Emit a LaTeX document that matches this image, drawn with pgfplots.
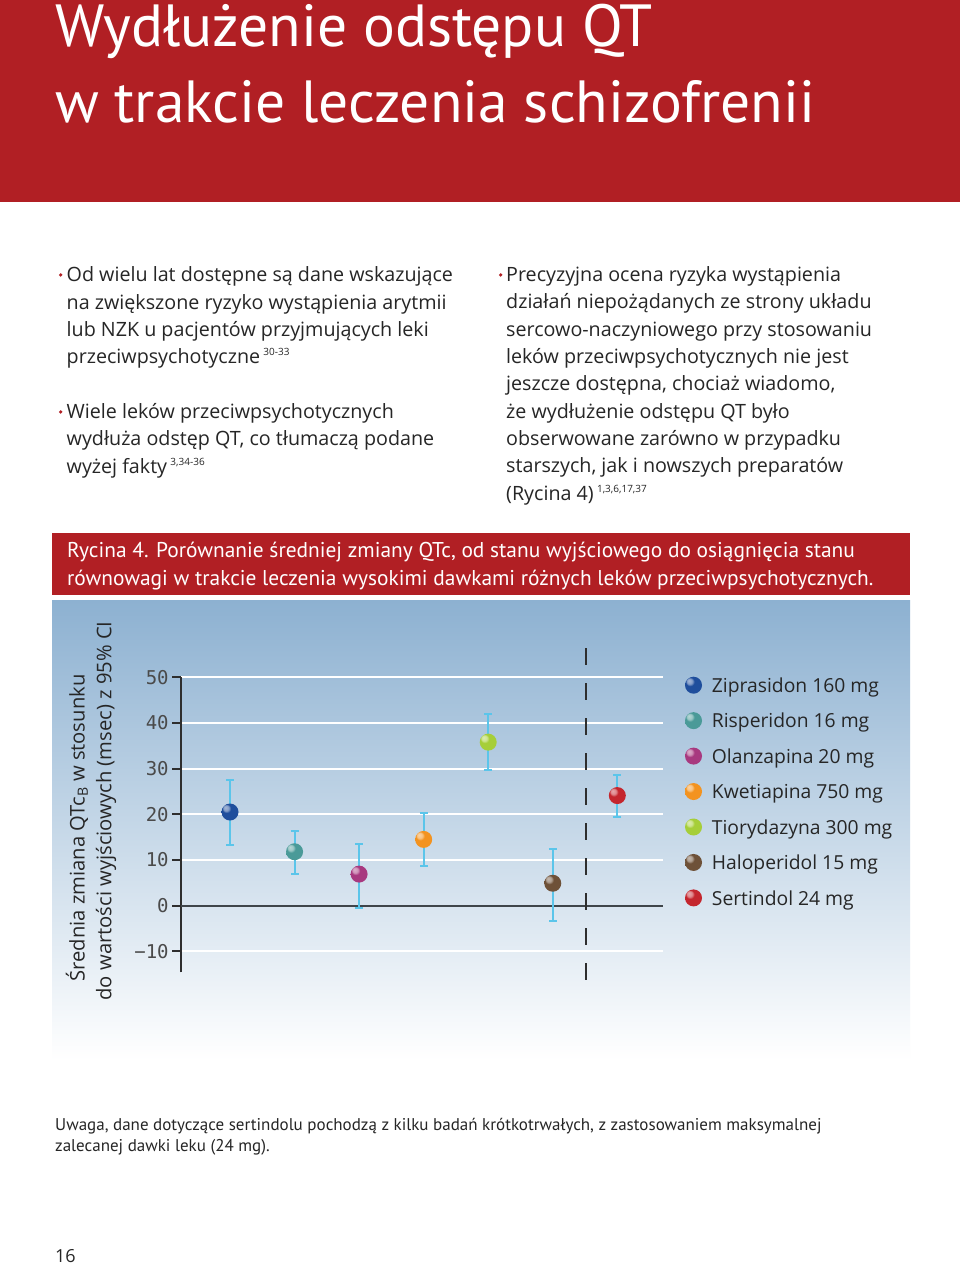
\documentclass[border=0pt]{standalone}
\usepackage{fontspec}
\setmainfont{Open Sans}
\newfontfamily\ptsans{PT Sans}
\newfontfamily\monofont{DejaVu Sans Mono}
\usepackage{pgfplots}
\pgfplotsset{compat=1.18}

\definecolor{pagered}{HTML}{B11F24}
\definecolor{bodytext}{HTML}{262626}
\definecolor{bgtop}{HTML}{8DB1D1}
\definecolor{axisgray}{HTML}{2E2E2E}
\definecolor{zerogray}{HTML}{3F454A}
\definecolor{ticktext}{HTML}{4A4A4A}
\definecolor{errblue}{HTML}{5BC5EA}
\definecolor{zip}{HTML}{1F4E9C}
\definecolor{risp}{HTML}{4A9A98}
\definecolor{olan}{HTML}{A8397F}
\definecolor{kwet}{HTML}{F39320}
\definecolor{tior}{HTML}{A6CE39}
\definecolor{halo}{HTML}{6E5138}
\definecolor{sert}{HTML}{C4262E}

% kulki z odblaskiem
\newcommand\declareball[1]{%
  \pgfdeclareradialshading{ball#1}{\pgfqpoint{-14bp}{14bp}}{%
    color(0bp)=(#1!40!white); color(8bp)=(#1!55!white); color(13bp)=(#1);
    color(42bp)=(#1); color(50bp)=(#1!80!black)}%
  \pgfdeclareplotmark{ball#1}{%
    \pgfpathcircle{\pgfpointorigin}{\pgfplotmarksize}%
    \pgfshadepath{ball#1}{0}\pgfusepath{discard}}}
\declareball{zip}\declareball{risp}\declareball{olan}\declareball{kwet}
\declareball{tior}\declareball{halo}\declareball{sert}

\newcommand\bodyfont{\fontsize{19.7}{27.4}\selectfont}
\newcommand\supfont{\fontsize{10}{10}\selectfont}

\begin{document}
\begin{tikzpicture}
\path[use as bounding box] (0,0) rectangle (960pt,1267pt);
\fill[white] (0,0) rectangle (960pt,1267pt);
\begin{scope}[x=1pt,y=-1pt,shift={(0,1267pt)}]
  % naglowek
  \fill[pagered] (0,0) rectangle (960,202);
  \begin{scope}[every node/.style={anchor=base west, inner sep=0pt, text=white,
      font=\ptsans\fontsize{59.5}{62}\selectfont}]
    \node at (55,47) {Wydłużenie odstępu QT};
    \node at (55,123) {w trakcie leczenia schizofrenii};
  \end{scope}
  % tekst
  \begin{scope}[every node/.style={anchor=base west, inner sep=0pt, text=bodytext,
      font=\bodyfont}]
    \fill[pagered] (60.7,275) circle (1.8);
    \node at (66.5,281.7) {Od wielu lat dostępne są dane wskazujące};
    \node at (66.5,309.1) {na zwiększone ryzyko wystąpienia arytmii};
    \node at (66.5,336.5) {lub NZK u pacjentów przyjmujących leki};
    \node at (66.5,363.9) {przeciwpsychotyczne\,\raisebox{8pt}{\supfont 30-33}};
    \fill[pagered] (60.7,412) circle (1.8);
    \node at (66.5,418.3) {Wiele leków przeciwpsychotycznych};
    \node at (66.5,445.7) {wydłuża odstęp QT, co tłumaczą podane};
    \node at (66.5,473.1) {wyżej fakty\,\raisebox{8pt}{\supfont 3,34-36}};
    \fill[pagered] (500.7,275) circle (1.8);
    \node at (506,281.7) {Precyzyjna ocena ryzyka wystąpienia};
    \node at (506,309.0) {działań niepożądanych ze strony układu};
    \node at (506,336.3) {sercowo-naczyniowego przy stosowaniu};
    \node at (506,363.6) {leków przeciwpsychotycznych nie jest};
    \node at (506,390.9) {jeszcze dostępna, chociaż wiadomo,};
    \node at (506,418.2) {że wydłużenie odstępu QT było};
    \node at (506,445.5) {obserwowane zarówno w przypadku};
    \node at (506,472.8) {starszych, jak i nowszych preparatów};
    \node at (506,500.1) {(Rycina 4)\,\raisebox{8pt}{\supfont 1,3,6,17,37}};
  \end{scope}
  % podpis ryciny
  \fill[pagered] (52,533) rectangle (910,595);
  \begin{scope}[every node/.style={anchor=base west, inner sep=0pt, text=white,
      font=\ptsans\fontsize{21.4}{28}\selectfont}]
    \node at (67,558) {Rycina 4. Porównanie średniej zmiany QTc, od stanu wyjściowego do osiągnięcia stanu};
    \node at (67,586) {równowagi w trakcie leczenia wysokimi dawkami różnych leków przeciwpsychotycznych.};
  \end{scope}
  % tlo wykresu
  \shade[top color=bgtop, bottom color=white] (52,601) rectangle (910,1060);
  \begin{scope}[every node/.style={rotate=90, inner sep=0pt, text=bodytext,
      font=\fontsize{20.2}{24}\selectfont}]
    \node at (77,828) {Średnia zmiana QTc\textsubscript{B} w stosunku};
    \node at (106,811) {do wartości wyjściowych (msec) z 95\% CI};
  \end{scope}
  % uwaga i numer strony
  \begin{scope}[every node/.style={anchor=base west, inner sep=0pt, text=bodytext,
      font=\ptsans\fontsize{17}{21}\selectfont}]
    \node at (55,1130.6) {Uwaga, dane dotyczące sertindolu pochodzą z kilku badań krótkotrwałych, z zastosowaniem maksymalnej};
    \node at (55,1152) {zalecanej dawki leku (24 mg).};
  \end{scope}
  \node[anchor=base west, inner sep=0pt, text=bodytext, font=\fontsize{18}{20}\selectfont] at (55,1263) {16};
\end{scope}

\begin{axis}[
  at={(180.7pt,294.7pt)}, anchor=south west,
  scale only axis, width=482pt, height=295pt,
  xmin=0.236, xmax=7.703, ymin=-14.6, ymax=50,
  clip=false,
  axis x line=none, axis y line*=left,
  axis line style={draw=axisgray, line width=1.8pt},
  xtick=\empty,
  ytick={-10,10,20,30,40,50},
  yticklabels={−10,10,20,30,40,50},
  extra y ticks={0}, extra y tick labels={0},
  extra y tick style={major grid style={draw=zerogray, line width=1.8pt}},
  tick align=outside, major tick length=8.5pt,
  ytick style={draw=axisgray, line width=1.8pt},
  yticklabel style={font=\monofont\fontsize{19}{19}\selectfont, text=ticktext},
  ymajorgrids, major grid style={draw=white, line width=2pt},
  legend cell align=left,
  legend image code/.code={\draw[#1] plot coordinates {(8.5pt,7.3pt)};},
  legend style={at={(1.0459,1.0027)}, anchor=north west, draw=none, fill=none,
    inner sep=0pt, column sep=9.9pt, row sep=14.65pt,
    nodes={inner sep=0pt, text height=15.8pt, text depth=5pt, anchor=base west},
    font=\fontsize{19.3}{24}\selectfont, text=bodytext},
  ebar/.style={error bars/.cd, y dir=both, y explicit,
    error bar style={draw=errblue, line width=2pt},
    error mark options={rotate=90, draw=errblue, line width=2pt, mark size=4pt}},
]
% linia przerywana oddzielajaca sertindol
\addplot[forget plot, draw=axisgray, line width=2pt, dash pattern=on 17pt off 18pt]
  coordinates {(6.51,56.4) (6.51,-18.5)};

\addplot[only marks, mark=ballzip, mark size=8.5pt, ebar]
  coordinates {(1,20.5) += (0,7.1) -= (0,7.2)};
\addlegendentry{Ziprasidon 160 mg}
\addplot[only marks, mark=ballrisp, mark size=8.5pt, ebar]
  coordinates {(2,11.8) += (0,4.6) -= (0,4.9)};
\addlegendentry{Risperidon 16 mg}
\addplot[only marks, mark=ballolan, mark size=8.5pt, ebar]
  coordinates {(3,6.9) += (0,6.6) -= (0,7.5)};
\addlegendentry{Olanzapina 20 mg}
\addplot[only marks, mark=ballkwet, mark size=8.5pt, ebar]
  coordinates {(4,14.5) += (0,5.8) -= (0,5.9)};
\addlegendentry{Kwetiapina 750 mg}
\addplot[only marks, mark=balltior, mark size=8.5pt, ebar]
  coordinates {(5,35.8) += (0,6.2) -= (0,6.0)};
\addlegendentry{Tiorydazyna 300 mg}
\addplot[only marks, mark=ballhalo, mark size=8.5pt, ebar]
  coordinates {(6,4.9) += (0,7.6) -= (0,8.2)};
\addlegendentry{Haloperidol 15 mg}
\addplot[only marks, mark=ballsert, mark size=8.5pt, ebar]
  coordinates {(7,24.1) += (0,4.4) -= (0,4.7)};
\addlegendentry{Sertindol 24 mg}
\end{axis}
\end{tikzpicture}
\end{document}
